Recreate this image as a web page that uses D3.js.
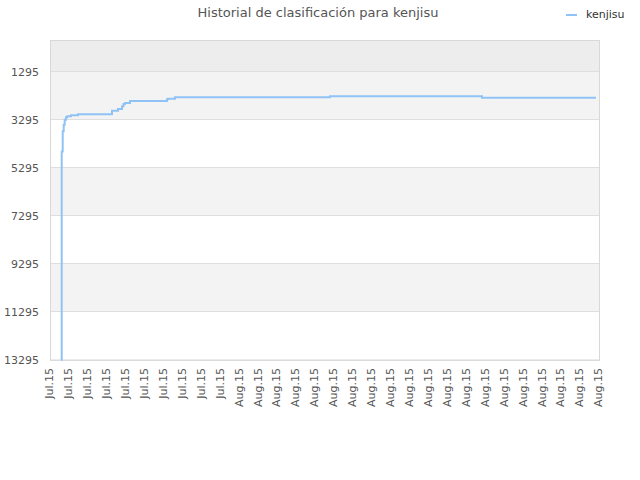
<html>
<head>
<meta charset="utf-8">
<script src="https://d3js.org/d3.v7.min.js"></script>
<style>
body{margin:0;background:#fff;}
text{font-family:"DejaVu Sans",sans-serif;}
</style>
</head>
<body>
<div class="chart"></div>
</body>
<script>
const title = 'Historial de clasificación para kenjisu';
const seriesName = 'kenjisu';

// rank history (lower is better)
const times = [
  '2015-07-22 15:28', '2015-07-22 15:43', '2015-07-22 16:59', '2015-07-22 18:15',
  '2015-07-22 19:31', '2015-07-22 21:10', '2015-07-22 22:49', '2015-07-23 03:30',
  '2015-07-23 12:23', '2015-07-25 07:29', '2015-07-25 15:06', '2015-07-25 20:10',
  '2015-07-25 22:04', '2015-07-25 23:58', '2015-07-26 06:19', '2015-07-28 05:14',
  '2015-07-28 06:29', '2015-07-28 15:22', '2015-08-05 19:52', '2015-08-13 20:35',
  '2015-08-19 21:07'
];
const ranks = [
  13295, 4616, 3782, 3503,
  3295, 3199, 3157, 3116,
  3074, 2920, 2849, 2741,
  2641, 2599, 2516, 2449,
  2420, 2366, 2324, 2379,
  2379
];
const yTicks = [1295, 3295, 5295, 7295, 9295, 11295, 13295];
const xStart = '2015-07-22';
const xEnd = '2015-08-20';

const W = 640, H = 480;
const m = {left: 50, right: 40, top: 40, bottom: 120};
const pw = W - m.left - m.right, ph = H - m.top - m.bottom;

const parse = d3.timeParse('%Y-%m-%d %H:%M');
const parseDay = d3.timeParse('%Y-%m-%d');
const data = times.map((t, i) => ({date: parse(t), value: ranks[i]}));

const x = d3.scaleTime()
  .domain([parseDay(xStart), parseDay(xEnd)])
  .range([-0.7, pw - 1.7]);
const y = d3.scaleLinear()
  .domain([-20, 13295])
  .range([0, ph]);

const svg = d3.select('.chart').append('svg')
  .attr('width', W).attr('height', H);

svg.append('text')
  .attr('x', 318).attr('y', 17)
  .attr('text-anchor', 'middle')
  .attr('font-size', 13)
  .attr('fill', '#555')
  .text(title);

// legend
svg.append('line')
  .attr('x1', 566).attr('x2', 577).attr('y1', 15).attr('y2', 15)
  .attr('stroke', '#90c3f5').attr('stroke-width', 2);
svg.append('text')
  .attr('x', 586).attr('y', 18)
  .attr('font-size', 11).attr('fill', '#333')
  .text(seriesName);

const g = svg.append('g').attr('transform', `translate(${m.left},${m.top})`);

// alternating bands
const bandEdges = [y.domain()[0]].concat(yTicks);
g.selectAll('rect.band')
  .data(d3.pairs(bandEdges))
  .enter().append('rect')
    .attr('class', 'band')
    .attr('x', 0).attr('width', pw)
    .attr('y', d => y(d[0]))
    .attr('height', d => y(d[1]) - y(d[0]))
    .attr('fill', (d, i) => i === 0 ? '#ededed' : (i % 2 ? '#f3f3f3' : '#ffffff'));

// grid
g.selectAll('line.grid')
  .data(yTicks)
  .enter().append('line')
    .attr('x1', 0).attr('x2', pw)
    .attr('y1', d => Math.floor(y(d)) + 0.5).attr('y2', d => Math.floor(y(d)) + 0.5)
    .attr('stroke', '#dedede');

g.append('rect')
  .attr('x', 0.5).attr('y', 0.5)
  .attr('width', pw - 1).attr('height', ph - 0.5)
  .attr('fill', 'none').attr('stroke', '#d8d8d8');

// y axis labels
g.selectAll('text.ylab')
  .data(yTicks)
  .enter().append('text')
    .attr('x', -11).attr('y', d => y(d) + 4)
    .attr('text-anchor', 'end')
    .attr('font-size', 11).attr('fill', '#555')
    .text(d => d);

// x axis labels
const xTicks = x.ticks(d3.timeDay.every(1));
g.selectAll('text.xlab')
  .data(xTicks)
  .enter().append('text')
    .attr('transform', d => `translate(${x(d) + 4},${ph + 8}) rotate(-90)`)
    .attr('text-anchor', 'end')
    .attr('font-size', 11).attr('fill', '#555')
    .text(d => d3.timeFormat('%b')(d) + '.' + d3.timeFormat('%y')(d));

const line = d3.line()
  .curve(d3.curveStepAfter)
  .x(d => x(d.date))
  .y(d => y(d.value));

g.append('path')
  .attr('d', line(data))
  .attr('fill', 'none')
  .attr('stroke', '#90c3f5')
  .attr('stroke-width', 2);
</script>
</html>
